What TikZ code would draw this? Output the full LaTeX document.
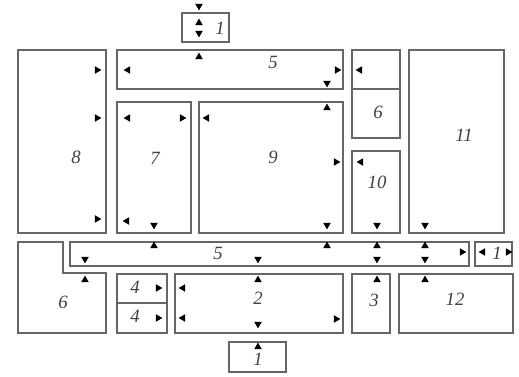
\documentclass[tikz,border=0pt]{standalone}
\usepackage{fontspec}
\setmainfont{Liberation Serif}
\usetikzlibrary{shapes.geometric}

\begin{document}
\begin{tikzpicture}[x=0.03cm, y=-0.03cm,
    wall/.style={draw=black!60, line width=1.3pt},
    roomno/.style={font=\itshape\fontsize{16}{16}\selectfont, text=black!75},
    tri/.style={regular polygon, regular polygon sides=3, fill=black, inner sep=0pt, minimum size=7.5pt},
    tup/.style={tri},
    tdown/.style={tri, rotate=180},
    tleft/.style={tri, rotate=90},
    tright/.style={tri, rotate=-90}]

      % Fix the frame of the picture
      \useasboundingbox (0,0) rectangle (519,377);

      % Draw the rooms
      \draw[wall] (182,13) rectangle (229,42);   % 1 top
      \draw[wall] (18,50) rectangle (106,233);   % 8
      \draw[wall] (117,50) rectangle (343,89);   % 5 top
      \draw[wall] (352,50) rectangle (400,138);  % 6 top
      \draw[wall] (352,89) -- (400,89);
      \draw[wall] (409,50) rectangle (504,233);  % 11
      \draw[wall] (117,102) rectangle (191,233); % 7
      \draw[wall] (199,102) rectangle (343,233); % 9
      \draw[wall] (352,151) rectangle (400,233); % 10
      \draw[wall] (70,242) rectangle (469,266);  % 5 corridor
      \draw[wall] (475,242) rectangle (512,266); % 1 right
      \draw[wall] (18,242) -- (63,242) -- (63,273) -- (106,273)
                  -- (106,333) -- (18,333) -- cycle; % 6 bottom
      \draw[wall] (117,274) rectangle (167,333); % 4
      \draw[wall] (117,303) -- (167,303);
      \draw[wall] (175,274) rectangle (343,333); % 2
      \draw[wall] (352,274) rectangle (390,333); % 3
      \draw[wall] (399,274) rectangle (513,333); % 12
      \draw[wall] (229,342) rectangle (286,372); % 1 bottom

      % Label the rooms
      \node[roomno] (n1a) at (220,28) {1};
      \node[roomno] (n5a) at (273,62) {5};
      \node[roomno] (n6a) at (378,112) {6};
      \node[roomno] (n8) at (76,157) {8};
      \node[roomno] (n7) at (155,158) {7};
      \node[roomno] (n9) at (273,157) {9};
      \node[roomno] (n10) at (377,182) {10};
      \node[roomno] (n11) at (464,135) {11};
      \node[roomno] (n5b) at (218,253) {5};
      \node[roomno] (n1b) at (497,253) {1};
      \node[roomno] (n6b) at (63,302) {6};
      \node[roomno] (n4a) at (135,287) {4};
      \node[roomno] (n4b) at (135,316) {4};
      \node[roomno] (n2) at (258,298) {2};
      \node[roomno] (n3) at (374,300) {3};
      \node[roomno] (n12) at (455,299) {12};
      \node[roomno] (n1c) at (258,359) {1};

      % Door marks
      \foreach \p in {(199,6),(199,33),(327,83),(154,225),(327,225),(377,225),
                      (425,225),(85,259),(258,259),(377,259),(425,259),(258,324)}
        \node[tdown] at \p {};
      \foreach \p in {(199,23),(199,57),(327,108),(154,246),(327,246),(377,246),
                      (425,246),(85,280),(258,280),(377,280),(425,280),(258,347)}
        \node[tup] at \p {};
      \foreach \p in {(128,70),(360,70),(128,118),(207,118),(127,221),(361,162),
                      (483,252),(183,288),(183,318)}
        \node[tleft] at \p {};
      \foreach \p in {(97,70),(97,118),(97,219),(337,70),(182,118),(336,162),
                      (462,252),(508,252),(158,288),(158,318),(336,319)}
        \node[tright] at \p {};
\end{tikzpicture}
\end{document}
